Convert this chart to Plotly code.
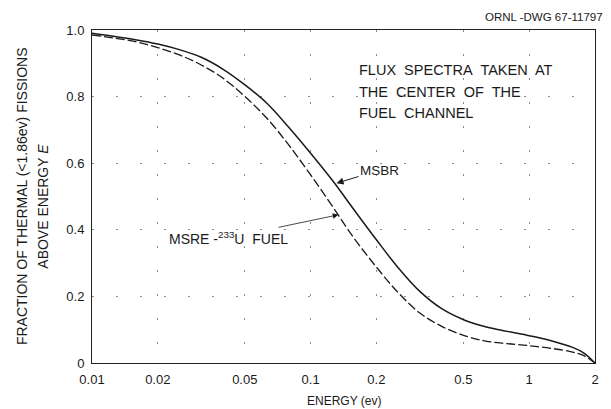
import plotly.graph_objects as go

# Energy grid (ev), roughly ten points per decade, and the cumulative
# fraction of thermal (<1.86 ev) fissions occurring above each energy
energy = [0.01, 0.0126, 0.0158, 0.02, 0.0251, 0.0316, 0.0398, 0.0501, 0.0631, 0.0794,
          0.1, 0.126, 0.158, 0.2, 0.251, 0.316, 0.398, 0.501, 0.631, 0.794,
          1.0, 1.26, 1.58, 1.78, 2.0]
msbr = [0.99, 0.981, 0.971, 0.958, 0.941, 0.918, 0.882, 0.835, 0.78, 0.708,
        0.63, 0.548, 0.46, 0.37, 0.287, 0.215, 0.163, 0.13, 0.109, 0.095,
        0.082, 0.067, 0.047, 0.03, 0.0]
msre = [0.985, 0.976, 0.965, 0.947, 0.925, 0.895, 0.855, 0.80, 0.735, 0.655,
        0.565, 0.47, 0.375, 0.288, 0.212, 0.15, 0.11, 0.083, 0.066, 0.058,
        0.052, 0.044, 0.033, 0.022, 0.0]

x_ticks = [0.01, 0.02, 0.05, 0.1, 0.2, 0.5, 1, 2]
x_tick_text = ["0.01", "0.02", "0.05", "0.1", "0.2", "0.5", "1", "2"]
y_ticks = [0, 0.2, 0.4, 0.6, 0.8, 1.0]
y_tick_text = ["0", "0.2", "0.4", "0.6", "0.8", "1.0"]

FONT = "Liberation Sans, Arial, sans-serif"
INK = "#1a1a1a"

fig = go.Figure()
fig.add_trace(go.Scatter(x=energy, y=msbr, mode="lines", name="MSBR",
                         line=dict(color=INK, width=1.5, shape="spline", smoothing=1.0)))
fig.add_trace(go.Scatter(x=energy, y=msre, mode="lines", name="MSRE-233U FUEL",
                         line=dict(color=INK, width=1.3, dash="9px,3px",
                                   shape="spline", smoothing=1.0)))

grid = dict(showgrid=True, gridcolor="#8a8a8a", gridwidth=1, griddash="2px,22px")
fig.update_xaxes(type="log", range=[-2, 0.30103], tickvals=x_ticks, ticktext=x_tick_text,
                 showline=True, linecolor="#222", linewidth=1, mirror=True, ticks="",
                 ticklabelstandoff=4,
                 zeroline=False, tickfont=dict(family=FONT, size=13, color=INK), **grid)
fig.update_yaxes(range=[0, 1.0], tickvals=y_ticks, ticktext=y_tick_text,
                 showline=True, linecolor="#222", linewidth=1, mirror=True, ticks="",
                 ticklabelstandoff=4,
                 zeroline=False, tickfont=dict(family=FONT, size=13, color=INK), **grid)

NB = "&nbsp;"
note_x = (359 - 92) / 506
annotations = [
    # axis titles
    dict(text="FRACTION OF THERMAL (&lt;1.86ev) FISSIONS", xref="paper", yref="paper",
         x=-0.140, y=0.5, textangle=-90, showarrow=False, xanchor="center", yanchor="middle",
         font=dict(family=FONT, size=14, color=INK)),
    dict(text="ABOVE ENERGY <i>E</i>", xref="paper", yref="paper",
         x=-0.097, y=0.47, textangle=-90, showarrow=False, xanchor="center", yanchor="middle",
         font=dict(family=FONT, size=14, color=INK)),
    dict(text="ENERGY (ev)", xref="paper", yref="paper", x=0.5, y=-0.114,
         showarrow=False, xanchor="center", yanchor="middle",
         font=dict(family=FONT, size=12, color=INK)),
    # drawing number
    dict(text="ORNL -DWG 67-11797", xref="paper", yref="paper", x=1.02, y=1.039,
         showarrow=False, xanchor="right", yanchor="middle",
         font=dict(family=FONT, size=11.5, color=INK)),
    # note
    dict(text=f"FLUX{NB} SPECTRA{NB} TAKEN{NB} AT", xref="paper", yref="paper", x=note_x,
         y=(363 - 70) / 333, showarrow=False, xanchor="left", yanchor="middle",
         font=dict(family=FONT, size=14.5, color=INK)),
    dict(text=f"THE{NB} CENTER{NB} OF{NB} THE", xref="paper", yref="paper", x=note_x,
         y=(363 - 92) / 333, showarrow=False, xanchor="left", yanchor="middle",
         font=dict(family=FONT, size=14.5, color=INK)),
    dict(text=f"FUEL{NB} CHANNEL", xref="paper", yref="paper", x=note_x,
         y=(363 - 113) / 333, showarrow=False, xanchor="left", yanchor="middle",
         font=dict(family=FONT, size=14.5, color=INK)),
    # curve labels with arrows onto the curves
    dict(text="MSBR", x=-0.8814, y=0.54, xref="x", yref="y", ax=43, ay=-13,
         showarrow=True, arrowhead=2, arrowsize=1.4, arrowwidth=1, arrowcolor=INK,
         font=dict(family=FONT, size=13.5, color=INK)),
    dict(text=f"MSRE -<sup>233</sup>U{NB} FUEL", x=-0.8729, y=0.445, xref="x", yref="y",
         ax=-110, ay=23, showarrow=True, arrowhead=2, arrowsize=1.4, arrowwidth=0.8,
         arrowcolor=INK, font=dict(family=FONT, size=14, color=INK)),
]

fig.update_layout(width=611, height=409, margin=dict(l=92, r=13, t=30, b=46),
                  paper_bgcolor="white", plot_bgcolor="white", showlegend=False,
                  annotations=annotations)

fig.write_html("out.html")
